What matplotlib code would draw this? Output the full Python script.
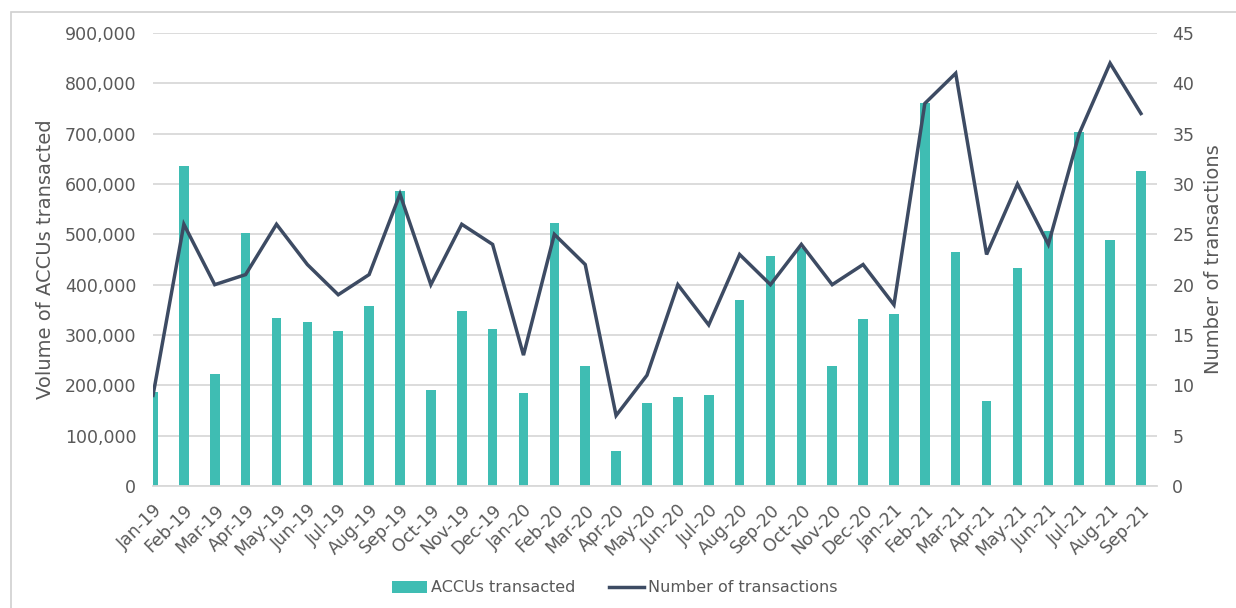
import matplotlib
matplotlib.use("Agg")
import matplotlib.pyplot as plt
from matplotlib.patches import Rectangle
from matplotlib.ticker import FuncFormatter, MultipleLocator

months = ["Jan-19", "Feb-19", "Mar-19", "Apr-19", "May-19", "Jun-19", "Jul-19", "Aug-19",
          "Sep-19", "Oct-19", "Nov-19", "Dec-19", "Jan-20", "Feb-20", "Mar-20", "Apr-20",
          "May-20", "Jun-20", "Jul-20", "Aug-20", "Sep-20", "Oct-20", "Nov-20", "Dec-20",
          "Jan-21", "Feb-21", "Mar-21", "Apr-21", "May-21", "Jun-21", "Jul-21", "Aug-21",
          "Sep-21"]
accus = [187000, 636000, 222000, 502000, 334000, 325000, 307000, 357000,
         587000, 191000, 347000, 311000, 185000, 523000, 238000, 70000,
         165000, 176000, 181000, 369000, 456000, 473000, 238000, 331000,
         341000, 761000, 465000, 169000, 433000, 506000, 704000, 488000,
         625000]
n_trans = [9, 26, 20, 21, 26, 22, 19, 21, 29, 20, 26, 24, 13, 25, 22, 7,
           11, 20, 16, 23, 20, 24, 20, 22, 18, 38, 41, 23, 30, 24, 35, 42, 37]

BAR = "#3FBDB3"
LINE = "#3D4B63"
TXT = "#595959"
GRID = "#D9D9D9"
FS = 12.5

plt.rcParams["font.family"] = ["DejaVu Sans"]

fig = plt.figure(figsize=(12.36, 6.08), dpi=100)
W, H = 1236, 608
# outer chart border
fig.patches.append(Rectangle((11 / W, -0.1), 1.2, (608 - 12) / H + 0.1,
                             transform=fig.transFigure, fill=False,
                             edgecolor="#D0D0D0", linewidth=1.2))

ax = fig.add_axes([153 / W, (H - 486) / H, (1157 - 153) / W, (486 - 33) / H])
x = list(range(len(months)))
ax.bar(x, accus, width=0.31, color=BAR, zorder=2, label="ACCUs transacted")
ax.set_ylim(0, 900000)
ax.yaxis.set_major_locator(MultipleLocator(100000))
ax.yaxis.set_major_formatter(FuncFormatter(lambda v, p: f"{int(v):,}"))
ax.set_xlim(0, 32.52)
ax.set_xticks(x)
ax.set_xticklabels(months, rotation=45, ha="right", rotation_mode="anchor")
ax.grid(axis="y", color=GRID, linewidth=1.3, zorder=0)
ax.set_axisbelow(True)
for s in ["top", "right", "left"]:
    ax.spines[s].set_visible(False)
ax.spines["bottom"].set_color(GRID)
ax.spines["bottom"].set_linewidth(1.3)
ax.tick_params(axis="both", length=0, labelsize=FS, colors=TXT)
ax.tick_params(axis="y", pad=12)
ax.tick_params(axis="x", pad=11)
ax.set_ylabel("Volume of ACCUs transacted", fontsize=14, color=TXT, labelpad=7)

ax2 = ax.twinx()
ax2.plot(x, n_trans, color=LINE, linewidth=2.5, zorder=3, label="Number of transactions",
         solid_joinstyle="miter")
ax2.set_ylim(0, 45)
ax2.yaxis.set_major_locator(MultipleLocator(5))
for s in ["top", "right", "left", "bottom"]:
    ax2.spines[s].set_visible(False)
ax2.tick_params(axis="y", length=0, labelsize=FS, colors=TXT, pad=11)
ax2.set_ylabel("Number of transactions", fontsize=14, color=TXT, labelpad=7)

h1, l1 = ax.get_legend_handles_labels()
h2, l2 = ax2.get_legend_handles_labels()
leg = fig.legend(h1 + h2, l1 + l2, loc="center", bbox_to_anchor=(615 / W, (H - 588) / H),
                 ncol=2, frameon=False, fontsize=11.5, handlelength=2.2,
                 handletextpad=0.25, columnspacing=2.1, labelcolor=TXT)

fig.savefig("out.png", dpi=100)
